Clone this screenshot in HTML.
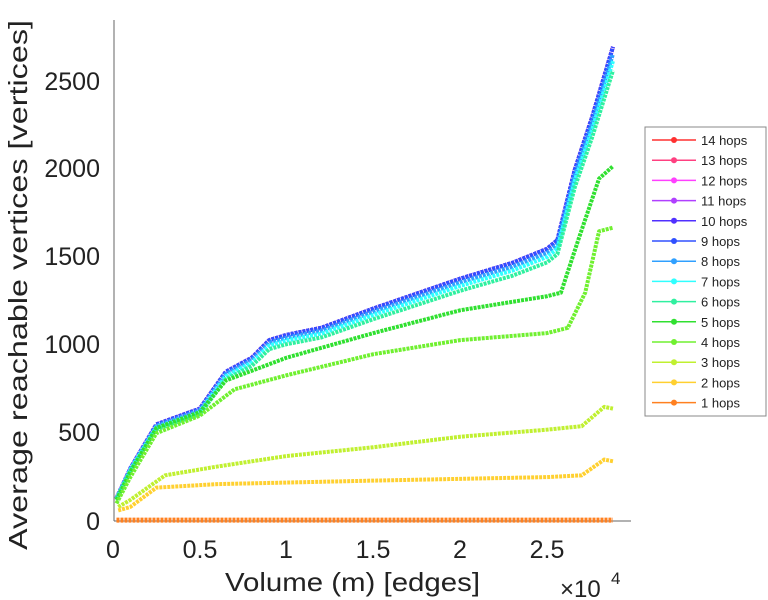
<!DOCTYPE html>
<html><head><meta charset="utf-8"><style>
body{margin:0;background:#fff;width:768px;height:600px;overflow:hidden}
svg{display:block;font-family:"Liberation Sans",sans-serif}
</style></head><body>
<svg id="s" width="768" height="600" viewBox="0 0 768 600">
<g stroke="#666" stroke-width="1" fill="none">
<line x1="114" y1="20" x2="114" y2="521"/>
<line x1="114" y1="521" x2="631" y2="521"/>
</g>
<g font-size="25" fill="#222" text-anchor="middle">
<text x="113" y="558">0</text><text x="200" y="558">0.5</text><text x="286" y="558">1</text>
<text x="373" y="558">1.5</text><text x="460" y="558">2</text><text x="547" y="558">2.5</text>
</g>
<text x="225" y="591" font-size="26" fill="#222" textLength="255" lengthAdjust="spacingAndGlyphs">Volume (m) [edges]</text>
<text x="560" y="597" font-size="24" fill="#222">×10</text><text x="611" y="584" font-size="17" fill="#222">4</text>
<g font-size="25" fill="#222" text-anchor="end">
<text x="100" y="530">0</text><text x="100" y="441">500</text><text x="100" y="353">1000</text>
<text x="100" y="265">1500</text><text x="100" y="177">2000</text><text x="100" y="90">2500</text>
</g>
<text transform="translate(27,550) rotate(-90)" font-size="26" fill="#222" textLength="530" lengthAdjust="spacingAndGlyphs">Average reachable vertices [vertices]</text>
<g id="d" fill="none" stroke-linejoin="round"></g>
<rect x="645" y="127" width="121" height="289" fill="#fff" stroke="#888"/>
<g id="l" font-size="13" fill="#222"></g>
</svg>
<script>
var X=function(v){return 113+v*173.6},Y=function(v){return 521-v*0.1756};
var base=[[0.02,130],[0.1,300],[0.25,550],[0.5,640],[0.65,850],[0.8,930],[0.9,1030],[1,1060],[1.2,1100],[1.5,1210],[2,1380],[2.3,1470],[2.5,1550],[2.56,1600],[2.66,2000],[2.76,2300],[2.85,2600],[2.88,2700]];
function sc(a,f){return a.map(function(p){return [p[0],p[1]*f]})}
var S={
1:[[0.02,5],[2.88,5]],
2:[[0.03,60],[0.1,80],[0.25,190],[0.6,210],[1.5,230],[2.5,250],[2.7,260],[2.83,350],[2.88,340]],
3:[[0.03,80],[0.1,120],[0.3,260],[0.6,310],[1,370],[1.5,420],[2,480],[2.5,520],[2.7,540],[2.83,650],[2.88,640]],
4:[[0.02,100],[0.1,250],[0.25,500],[0.5,600],[0.7,750],[1,830],[1.5,950],[2,1030],[2.5,1070],[2.62,1100],[2.72,1300],[2.8,1650],[2.88,1670]],
5:[[0.02,120],[0.1,280],[0.25,530],[0.5,620],[0.65,800],[1,930],[1.5,1070],[2,1200],[2.5,1280],[2.58,1300],[2.68,1600],[2.8,1950],[2.88,2020]],
6:sc(base,0.95),7:sc(base,0.97),8:sc(base,0.985),9:base,10:base,11:base,12:base,13:base,14:base};
var C={14:"#ff3030",13:"#ff4080",12:"#ff40ff",11:"#b040ff",10:"#5030ff",9:"#3050ff",8:"#30a0ff",7:"#30ffff",6:"#30f0a0",5:"#30e030",4:"#70f030",3:"#c0f030",2:"#ffd030",1:"#ff8020"};
var d=document.getElementById("d"),l=document.getElementById("l"),ns="http://www.w3.org/2000/svg";
for(var k=14;k>=1;k--){var p=document.createElementNS(ns,"polyline");
p.setAttribute("points",S[k].map(function(q){return X(q[0])+","+Y(q[1])}).join(" "));
p.setAttribute("stroke",C[k]);p.setAttribute("stroke-width",k==1?5:4);p.setAttribute("stroke-dasharray","3 1");d.appendChild(p);}
for(var i=0;i<14;i++){var k=14-i,y=140+i*20.2;
var ln=document.createElementNS(ns,"line");ln.setAttribute("x1",652);ln.setAttribute("x2",696);ln.setAttribute("y1",y);ln.setAttribute("y2",y);ln.setAttribute("stroke",C[k]);ln.setAttribute("stroke-width",1.5);l.appendChild(ln);
var c=document.createElementNS(ns,"circle");c.setAttribute("cx",674);c.setAttribute("cy",y);c.setAttribute("r",3);c.setAttribute("fill",C[k]);l.appendChild(c);
var t=document.createElementNS(ns,"text");t.setAttribute("x",701);t.setAttribute("y",y+5);t.textContent=k+" hops";l.appendChild(t);}
</script>
</body></html>
